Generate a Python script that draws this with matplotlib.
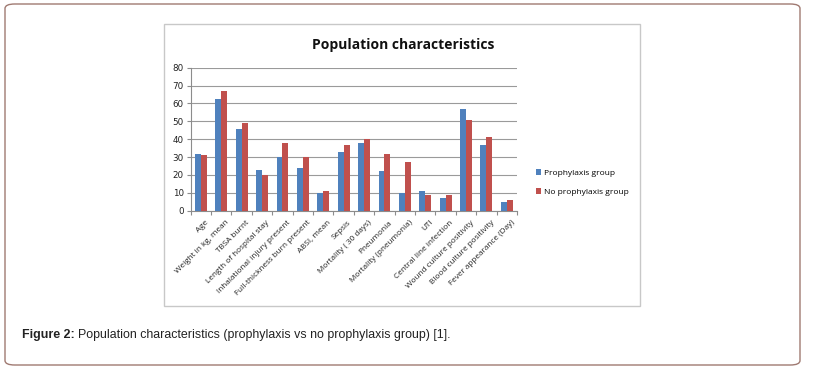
import matplotlib.pyplot as plt
import numpy as np
from matplotlib.patches import Rectangle, FancyBboxPatch

categories = ["Age", "Weight in kg, mean", "TBSA burnt", "Length of hospital stay",
              "Inhalational injury present", "Full-thickness burn present", "ABSI, mean",
              "Sepsis", "Mortality ( 30 days)", "Pneumonia", "Mortality (pneumonia)", "UTI",
              "Central line infection", "Wound culture positivity", "Blood culture positivity",
              "Fever appearance (Day)"]
prophylaxis = [31.5, 62.5, 45.5, 22.5, 30, 24, 10, 33, 38, 22, 10, 11, 7, 57, 37, 5]
no_prophylaxis = [31, 67, 49, 20, 38, 30, 11, 37, 40, 32, 27, 9, 9, 51, 41, 6]
yticks = [0, 10, 20, 30, 40, 50, 60, 70, 80]

W, H = 815, 369
fig = plt.figure(figsize=(W / 100, H / 100), dpi=100)

# outer rounded frame
fig.patches.append(FancyBboxPatch((5 / W, 4 / H), 795 / W, 361 / H,
                                  boxstyle="round,pad=0,rounding_size=0.012",
                                  transform=fig.transFigure, fill=False,
                                  edgecolor="#a07a72", linewidth=1.0))
# chart frame
fig.patches.append(Rectangle((164 / W, 1 - 306 / H), (640 - 164) / W, (306 - 24) / H,
                             transform=fig.transFigure, fill=False,
                             edgecolor="#c8c8c8", linewidth=1.0))

ax = fig.add_axes([190.7 / W, 1 - 210.7 / H, (517 - 190.7) / W, (210.7 - 67.7) / H])
x = np.arange(len(categories))
w = 0.29
ax.bar(x - w / 2, prophylaxis, w, color="#4f81bd", label="Prophylaxis group", zorder=3)
ax.bar(x + w / 2, no_prophylaxis, w, color="#c0504d", label="No prophylaxis group", zorder=3)

ax.set_xlim(-0.5, len(categories) - 0.5)
ax.set_ylim(0, 80)
ax.set_yticks(yticks)
ax.yaxis.grid(True, color="#9a9a9a", linewidth=0.8, zorder=0)
for s in ["top", "right"]:
    ax.spines[s].set_visible(False)
for s in ["left", "bottom"]:
    ax.spines[s].set_color("#8c8c8c")
ax.tick_params(axis="y", labelsize=6.3, colors="#8c8c8c", labelcolor="#222222", length=3, pad=2)
ax.set_xticks(np.arange(len(categories) + 1) - 0.5)
ax.set_xticklabels([])
ax.tick_params(axis="x", length=3, colors="#8c8c8c")
for i, c in enumerate(categories):
    ax.annotate(c, xy=(i, 0), xycoords=("data", "axes fraction"), xytext=(3, -6),
                textcoords="offset points", rotation=45, ha="right", va="top",
                rotation_mode="anchor", fontsize=5.9, color="#222222", family="Open Sans")

fig.text(403 / W, 1 - 45 / H, "Population characteristics", ha="center", va="center",
         fontsize=10, fontweight="bold", family="Open Sans", color="#111111")

fig.legend(loc="upper left", bbox_to_anchor=(528 / W, 1 - 162 / H), frameon=False,
           prop={"family": "Open Sans", "size": 6}, handlelength=0.7, handleheight=0.7,
           handletextpad=0.3, labelspacing=1.3)

t1 = fig.text(22 / W, 1 - 335 / H, "Figure 2:", ha="left", va="center", fontsize=8.9,
              family="Liberation Sans", fontweight="bold", color="#222222")
fig.canvas.draw()
bb = t1.get_window_extent()
fig.text((bb.x1 + 3) / W, 1 - 335 / H,
         "Population characteristics (prophylaxis vs no prophylaxis group) [1].",
         ha="left", va="center", fontsize=8.9, family="Liberation Sans", color="#222222")

fig.savefig("out.png", dpi=100)
